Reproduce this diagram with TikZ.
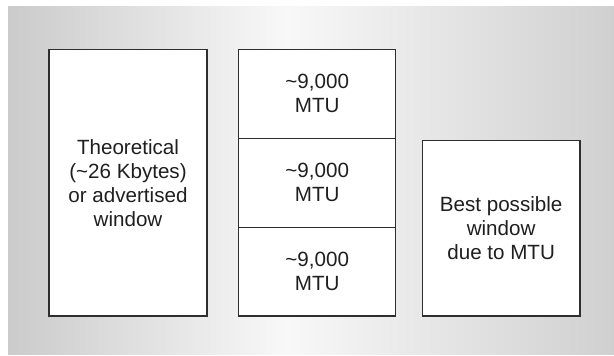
\documentclass[tikz,border=0pt]{standalone}
\usepackage{fontspec}
\setmainfont{Liberation Sans}
\definecolor{bgL}{HTML}{CBCBCB}
\definecolor{bgM}{HTML}{F8F8F8}
\definecolor{bgR}{HTML}{D0D0D0}
\definecolor{edge}{HTML}{2E2E2E}
\pgfdeclarehorizontalshading{bgshade}{100bp}{color(0bp)=(bgL); color(25bp)=(bgL); color(48bp)=(bgM); color(75bp)=(bgR); color(100bp)=(bgR)}
\tikzset{
  box/.style={draw=edge, fill=white, line width=1.2pt, inner sep=0pt, align=center,
    font=\fontsize{20.6}{24}\selectfont, text=black!88},
}
\begin{document}
\begin{tikzpicture}[x=1pt,y=-1pt]
\useasboundingbox (0,0) rectangle (614,356);
\shade[shading=bgshade] (8,6) rectangle (614,354);
\node[box, minimum width=158pt, minimum height=266.5pt] (theo) at (128,182.75)
  {Theoretical\\(\textasciitilde 26 Kbytes)\\or advertised\\window};
\node[box, minimum width=157pt, minimum height=88.83pt] (mtuA) at (317.2,93.9)
  {\textasciitilde 9,000\\MTU};
\node[box, minimum width=157pt, minimum height=88.83pt] (mtuB) at (317.2,182.75)
  {\textasciitilde 9,000\\MTU};
\node[box, minimum width=157pt, minimum height=88.83pt] (mtuC) at (317.2,271.6)
  {\textasciitilde 9,000\\MTU};
\node[box, minimum width=157.7pt, minimum height=175.3pt] (best) at (501.15,228.35)
  {Best possible\\window\\due to MTU};
\end{tikzpicture}
\end{document}
